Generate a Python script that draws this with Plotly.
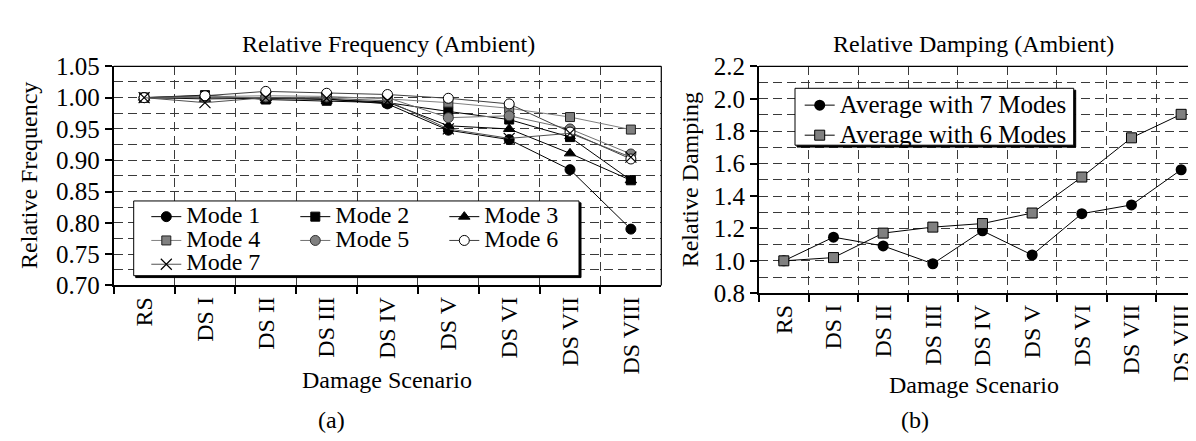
import plotly.graph_objects as go

# ---------------- data ----------------
categories = ["RS", "DS I", "DS II", "DS III", "DS IV", "DS V", "DS VI", "DS VII", "DS VIII"]

mode1 = [1.000, 1.000, 1.000, 0.998, 0.990, 0.948, 0.933, 0.885, 0.790]
mode2 = [1.000, 1.004, 0.997, 0.995, 0.992, 0.978, 0.965, 0.937, 0.868]
mode3 = [1.000, 0.998, 0.999, 0.997, 0.993, 0.955, 0.950, 0.911, 0.868]
mode4 = [1.000, 1.002, 1.003, 1.002, 0.998, 0.992, 0.983, 0.969, 0.949]
mode5 = [1.000, 1.000, 1.001, 1.001, 1.000, 0.968, 0.971, 0.950, 0.910]
mode6 = [1.000, 1.003, 1.010, 1.007, 1.005, 0.999, 0.990, 0.945, 0.902]
mode7 = [1.000, 0.992, 1.000, 0.999, 0.995, 0.950, 0.935, 0.943, 0.905]

damping_7modes = [1.000, 1.146, 1.092, 0.982, 1.185, 1.036, 1.291, 1.345, 1.562]
damping_6modes = [1.000, 1.020, 1.171, 1.208, 1.230, 1.295, 1.517, 1.759, 1.904]

freq_range = [0.70, 1.05]
damp_range = [0.8, 2.2]

# ---------------- geometry helpers (pixels -> paper) ----------------
W, H = 1196, 441
FONT = "Liberation Serif"
GRID = "#3a3a3a"
DASH = "9px,5px"


def px(xp):
    return xp / W


def py(yp):
    return 1 - yp / H


fig = go.Figure()

mode_series = [
    ("Mode 1", mode1, dict(symbol="circle", size=10, color="black", line=dict(color="black", width=1)), "black", "g1"),
    ("Mode 2", mode2, dict(symbol="square", size=9, color="black", line=dict(color="black", width=1)), "black", "g2"),
    ("Mode 3", mode3, dict(symbol="triangle-up", size=10, color="black", line=dict(color="black", width=1)), "black", "g3"),
    ("Mode 4", mode4, dict(symbol="square", size=9, color="#808080", line=dict(color="#202020", width=1)), "#808080", "g1"),
    ("Mode 5", mode5, dict(symbol="circle", size=10, color="#808080", line=dict(color="#303030", width=1)), "#707070", "g2"),
    ("Mode 6", mode6, dict(symbol="circle", size=10, color="white", line=dict(color="black", width=1)), "#404040", "g3"),
    ("Mode 7", mode7, dict(symbol="x-thin-open", size=11, color="black", line=dict(color="black", width=1.2)), "#505050", "g1"),
]

for name, vals, marker, lcolor, grp in mode_series:
    fig.add_trace(go.Scatter(
        x=categories, y=vals, name=f'<span style="font-size:24px">{name}</span>',
        mode="lines+markers", marker=marker, line=dict(color=lcolor, width=1),
        xaxis="x", yaxis="y", legend="legend", legendgroup=grp,
    ))

fig.add_trace(go.Scatter(
    x=categories, y=damping_7modes, name='<span style="font-size:25px">Average with 7 Modes</span>',
    mode="lines+markers", marker=dict(symbol="circle", size=11, color="black"),
    line=dict(color="black", width=1), xaxis="x2", yaxis="y2", legend="legend2",
))
fig.add_trace(go.Scatter(
    x=categories, y=damping_6modes, name='<span style="font-size:25px">Average with 6 Modes</span>',
    mode="lines+markers", marker=dict(symbol="square", size=10, color="#808080", line=dict(color="black", width=1)),
    line=dict(color="black", width=1), xaxis="x2", yaxis="y2", legend="legend2",
))

axis_common = dict(
    showline=True, linecolor="black", linewidth=2,
    ticks="outside", ticklen=7, tickwidth=2, tickcolor="black",
    showgrid=True, gridcolor=GRID, gridwidth=1, griddash=DASH,
    zeroline=False,
)

x_common = dict(
    type="category", categoryorder="array", categoryarray=categories,
    tickson="boundaries", tickangle=-90,
    tickfont=dict(family=FONT, size=24, color="black"), **axis_common,
)
y_tickfont = dict(family=FONT, size=25, color="black")
minor_grid = dict(showgrid=True, gridcolor=GRID, griddash=DASH, gridwidth=1)

fig.update_layout(
    width=W, height=H, margin=dict(l=0, r=0, t=0, b=0),
    paper_bgcolor="white", plot_bgcolor="white",
    font=dict(family=FONT, color="black"),
    xaxis=dict(domain=[px(105.7), px(653.3)], range=[-0.5, 8.5], anchor="y", **x_common),
    yaxis=dict(domain=[py(281.7), py(48.3)], range=freq_range, anchor="x",
               tickmode="linear", tick0=0.70, dtick=0.05, tickformat=".2f",
               minor=dict(tick0=0.70, dtick=0.025, **minor_grid),
               tickfont=y_tickfont, **axis_common),
    xaxis2=dict(domain=[px(751), 1.0], range=[-0.5, 8.46], anchor="y2", **x_common),
    yaxis2=dict(domain=[py(290), py(48.3)], range=damp_range, anchor="x2",
                tickmode="linear", tick0=0.8, dtick=0.2, tickformat=".1f",
                minor=dict(tick0=0.8, dtick=0.1, **minor_grid),
                tickfont=y_tickfont, **axis_common),
    legend=dict(x=px(138.3), y=py(190.4), xanchor="left", yanchor="top",
                orientation="h", traceorder="grouped", entrywidth=104,
                tracegroupgap=0, bgcolor="rgba(0,0,0,0)", borderwidth=0,
                font=dict(family=FONT, size=16, color="black")),
    legend2=dict(x=px(791.7), y=py(68.3), xanchor="left", yanchor="top",
                 orientation="v", bgcolor="rgba(0,0,0,0)", borderwidth=0,
                 font=dict(family=FONT, size=20.8, color="black")),
    showlegend=True,
)


def box_with_shadow(x0, y0, x1, y1, off=2):
    return [
        dict(type="rect", xref="paper", yref="paper", layer="above",
             x0=px(x0 + off), x1=px(x1 + off), y0=py(y0 + off), y1=py(y1 + off),
             fillcolor="black", line=dict(color="black", width=1)),
        dict(type="rect", xref="paper", yref="paper", layer="above",
             x0=px(x0), x1=px(x1), y0=py(y0), y1=py(y1),
             fillcolor="white", line=dict(color="black", width=1)),
    ]


shapes = [
    # thin frame lines (top / right)
    dict(type="line", xref="paper", yref="paper", x0=px(105.7), x1=px(653.3), y0=py(48.3), y1=py(48.3),
         line=dict(color="black", width=1.2)),
    dict(type="line", xref="paper", yref="paper", x0=px(653.3), x1=px(653.3), y0=py(48.3), y1=py(281.7),
         line=dict(color="black", width=1.2)),
    dict(type="line", xref="paper", yref="paper", x0=px(751), x1=1.0, y0=py(48.3), y1=py(48.3),
         line=dict(color="black", width=1.2)),
]
shapes += box_with_shadow(125.7, 191.7, 571.0, 271.3)
shapes += box_with_shadow(787.0, 71.7, 1065.7, 132.3)
fig.update_layout(shapes=shapes)

ann_font = dict(family=FONT, size=24, color="black")


def ann(text, x, y, angle=0):
    return dict(text=text, x=px(x), y=py(y), xref="paper", yref="paper", textangle=angle,
                showarrow=False, xanchor="center", yanchor="middle", font=ann_font)


fig.update_layout(annotations=[
    ann("Relative Frequency (Ambient)", 380, 24),
    ann("Relative Damping (Ambient)", 965, 24),
    ann("Relative Frequency", 21, 165, -90),
    ann("Relative Damping", 681.7, 169, -90),
    ann("Damage Scenario", 379, 382),
    ann("Damage Scenario", 966, 388),
    ann("(a)", 323, 425),
    ann("(b)", 907, 425),
])

fig.write_html("out.html")
